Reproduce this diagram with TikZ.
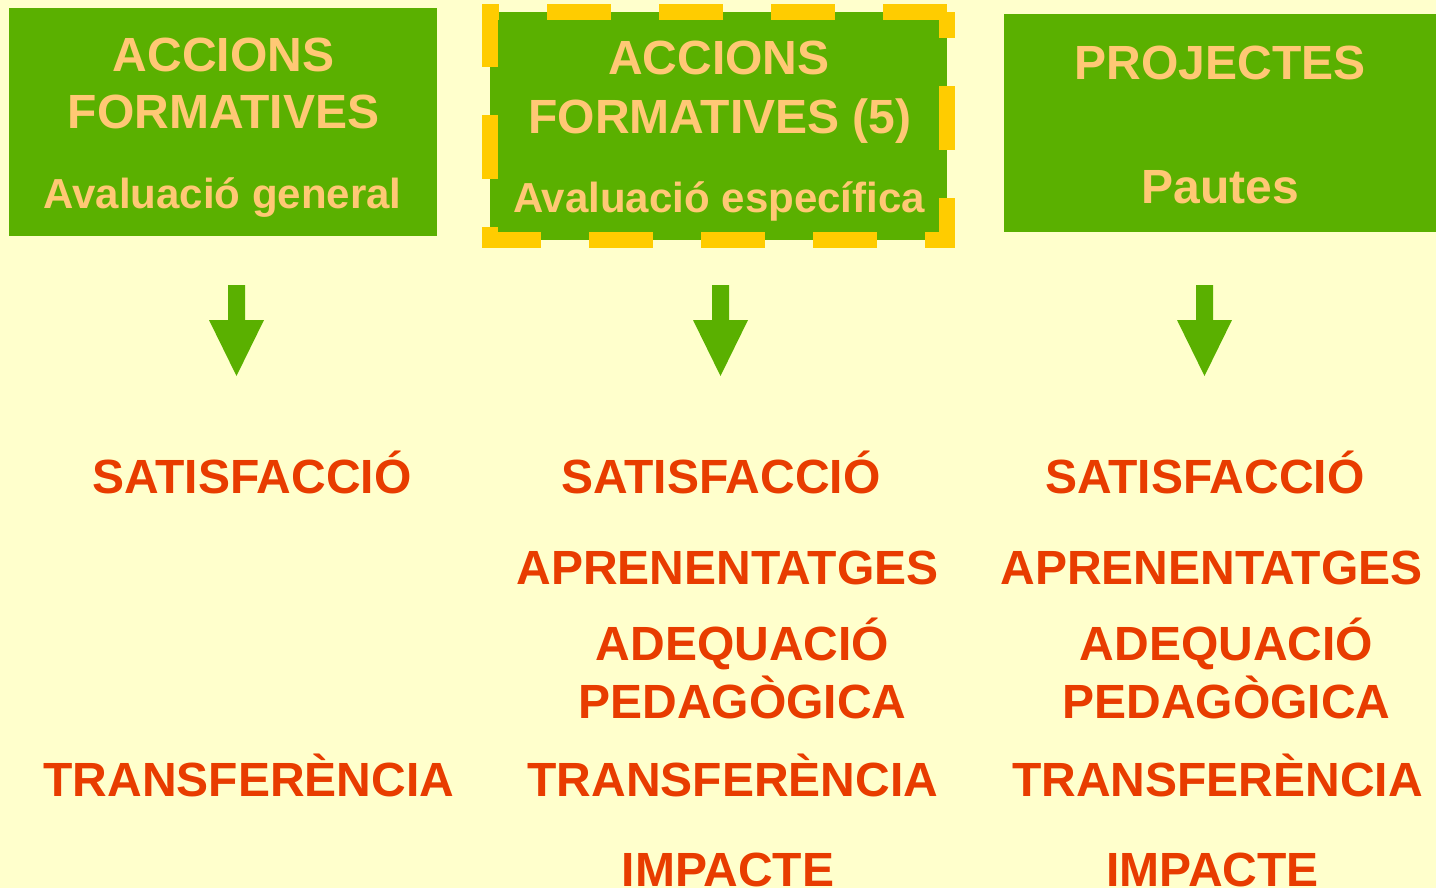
\documentclass[tikz,border=0pt]{standalone}
\usepackage{fontspec}
\setmainfont{Liberation Sans}
\definecolor{bgc}{HTML}{FFFFCC}
\definecolor{boxg}{HTML}{5AB000}
\definecolor{boxt}{HTML}{FFC875}
\definecolor{redt}{HTML}{E83C00}
\definecolor{dashy}{HTML}{FFCC00}
\begin{document}
\begin{tikzpicture}[x=1pt,y=-1pt,
  boxtitle/.style={anchor=base,inner sep=0pt,text=boxt,font=\bfseries\fontsize{48}{48}\selectfont},
  boxsub/.style={anchor=base,inner sep=0pt,text=boxt,font=\bfseries\fontsize{42}{42}\selectfont},
  item/.style={anchor=base,inner sep=0pt,text=redt,font=\bfseries\fontsize{48}{48}\selectfont},
  greenbox/.style={fill=boxg},
  downarrow/.pic={\fill[boxg] (-8.5,285) -- (8.5,285) -- (8.5,320) -- (27.5,320) -- (0,376) -- (-27.5,320) -- (-8.5,320) -- cycle;}
]
\fill[bgc] (0,0) rectangle (1436,888);
\useasboundingbox (0,0) rectangle (1436,888);

% boxes
\fill[greenbox] (9,8) rectangle (437,236);
\fill[greenbox] (490,12) rectangle (947,240);
\draw[dashy,line width=16pt,line join=miter,dash pattern=on 64pt off 48pt]
  (947,12) -- (490,12) -- (490,240) -- (947,240) -- cycle;
\fill[greenbox] (1004,14) rectangle (1436,232);

% box texts
\node[boxtitle] (b1a) at (223.5,72) {ACCIONS};
\node[boxtitle] (b1b) at (223.5,129) {FORMATIVES};
\node[boxsub]   (b1c) at (222.5,208) {Avaluació general};

\node[boxtitle] (b2a) at (719,75) {ACCIONS};
\node[boxtitle] (b2b) at (720,134) {FORMATIVES (5)};
\node[boxsub]   (b2c) at (719,212) {Avaluació específica};

\node[boxtitle] (b3a) at (1220,80) {PROJECTES};
\node[boxtitle] (b3b) at (1220,204) {Pautes};

% arrows
\pic (ar1) at (236.5,0) {downarrow};
\pic (ar2) at (720.5,0) {downarrow};
\pic (ar3) at (1204.5,0) {downarrow};

% column 1
\node[item] (c1s) at (252,493) {SATISFACCIÓ};
\node[item] (c1t) at (249,796) {TRANSFERÈNCIA};

% column 2
\node[item] (c2s) at (721,493) {SATISFACCIÓ};
\node[item] (c2a) at (727.5,584) {APRENENTATGES};
\node[item] (c2d) at (742.5,660) {ADEQUACIÓ};
\node[item] (c2p) at (742.5,718) {PEDAGÒGICA};
\node[item] (c2t) at (733,796) {TRANSFERÈNCIA};
\node[item] (c2i) at (728,886) {IMPACTE};

% column 3
\node[item] (c3s) at (1205,493) {SATISFACCIÓ};
\node[item] (c3a) at (1211.5,584) {APRENENTATGES};
\node[item] (c3d) at (1226.5,660) {ADEQUACIÓ};
\node[item] (c3p) at (1226.5,718) {PEDAGÒGICA};
\node[item] (c3t) at (1217.5,796) {TRANSFERÈNCIA};
\node[item] (c3i) at (1212.5,886) {IMPACTE};
\end{tikzpicture}
\end{document}
